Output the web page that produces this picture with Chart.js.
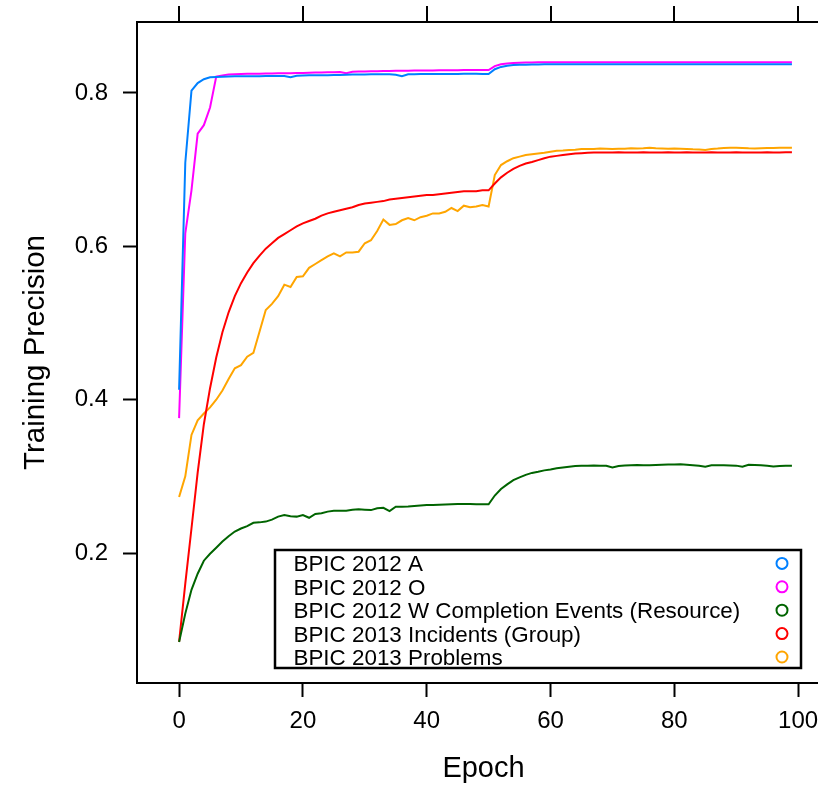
<!DOCTYPE html>
<html>
<head>
<meta charset="utf-8">
<script src="https://cdn.jsdelivr.net/npm/chart.js@4/dist/chart.umd.min.js"></script>
<style>
html,body{margin:0;padding:0;background:#fff;overflow:hidden;width:818px;height:787px;}
#wrap{position:absolute;left:0;top:0;width:840px;height:787px;}
</style>
</head>
<body>
<div id="wrap"><canvas id="c" width="840" height="787"></canvas></div>
<script>
const epochs = Array.from({length: 100}, (_, i) => i);
const seriesNames = ["BPIC 2012 A", "BPIC 2012 O", "BPIC 2012 W Completion Events (Resource)", "BPIC 2013 Incidents (Group)", "BPIC 2013 Problems"];
const seriesColors = ["#0080ff", "#ff00ff", "#006400", "#ff0000", "#ffa500"];
const xTicks = [0, 20, 40, 60, 80, 100];
const yTicks = [0.2, 0.4, 0.6, 0.8];

const bpic2012A = [
0.413,0.709,0.803,0.813,0.818,0.8205,0.821,0.8212,0.8215,0.8218,
0.822,0.822,0.822,0.822,0.8222,0.8222,0.8222,0.8222,0.8205,0.8225,
0.8228,0.823,0.823,0.8232,0.8233,0.8235,0.8235,0.8238,0.824,0.824,
0.8242,0.8244,0.8244,0.8244,0.8245,0.8238,0.822,0.8245,0.8246,0.8247,
0.8248,0.8248,0.8248,0.8249,0.8249,0.8249,0.825,0.825,0.825,0.8248,
0.8248,0.831,0.834,0.8355,0.8364,0.8368,0.837,0.8372,0.8373,0.8374,
0.8374,0.8375,0.8374,0.8375,0.8375,0.8374,0.8375,0.8376,0.8375,0.8374,
0.8375,0.8376,0.8375,0.8375,0.8376,0.8375,0.8374,0.8375,0.8376,0.8375,
0.8375,0.8376,0.8375,0.8374,0.8375,0.8375,0.8376,0.8375,0.8374,0.8375,
0.8376,0.8375,0.8375,0.8374,0.8375,0.8376,0.8375,0.8375,0.8375,0.8375];

const bpic2012O = [
0.376,0.617,0.673,0.747,0.758,0.781,0.8215,0.823,0.8242,0.8246,
0.8248,0.825,0.825,0.8252,0.8254,0.8255,0.8256,0.8257,0.8259,0.826,
0.8262,0.8264,0.8266,0.8268,0.827,0.8272,0.8274,0.8257,0.8278,0.828,
0.8282,0.8284,0.8285,0.8287,0.8288,0.8289,0.829,0.8291,0.8292,0.8293,
0.8294,0.8295,0.8296,0.8297,0.8297,0.8298,0.8299,0.83,0.83,0.83,
0.83,0.835,0.8375,0.8385,0.8392,0.8396,0.8398,0.8399,0.84,0.84,
0.8401,0.84,0.8401,0.8402,0.8401,0.84,0.8401,0.8402,0.8401,0.8401,
0.84,0.8401,0.8402,0.8401,0.8401,0.84,0.8401,0.8402,0.8401,0.84,
0.8401,0.8401,0.8402,0.8401,0.84,0.8401,0.8401,0.8402,0.8401,0.84,
0.8401,0.8402,0.8401,0.8401,0.84,0.8401,0.8402,0.8401,0.8401,0.8401];

const bpic2012W = [
0.084,0.121,0.152,0.173,0.190,0.199,0.207,0.215,0.222,0.228,
0.232,0.235,0.2395,0.240,0.241,0.2435,0.2475,0.2495,0.248,0.2475,
0.2495,0.246,0.251,0.2518,0.254,0.2552,0.2552,0.2552,0.2565,0.257,
0.2565,0.256,0.2585,0.259,0.2548,0.2604,0.2604,0.2608,0.2614,0.262,
0.2626,0.2628,0.263,0.2633,0.2636,0.2638,0.264,0.2638,0.2636,0.2635,
0.2635,0.275,0.2835,0.2895,0.295,0.2987,0.302,0.3045,0.306,0.3078,
0.309,0.3105,0.3115,0.3125,0.3135,0.3139,0.314,0.3141,0.314,0.3138,
0.3117,0.3135,0.3142,0.3145,0.3148,0.3146,0.3144,0.3148,0.3152,0.3154,
0.3156,0.3157,0.3152,0.3146,0.3138,0.3126,0.3145,0.3146,0.3144,0.3142,
0.314,0.3126,0.3152,0.3148,0.3144,0.3138,0.313,0.3136,0.3139,0.3139];

const bpic2013Incidents = [
0.084,0.160,0.232,0.305,0.368,0.415,0.455,0.488,0.514,0.535,
0.552,0.566,0.578,0.588,0.597,0.604,0.611,0.616,0.621,0.626,
0.630,0.633,0.636,0.640,0.643,0.645,0.647,0.649,0.651,0.654,
0.656,0.657,0.658,0.659,0.661,0.662,0.663,0.664,0.665,0.666,
0.667,0.667,0.668,0.669,0.670,0.671,0.672,0.672,0.672,0.673,
0.673,0.682,0.690,0.696,0.701,0.705,0.708,0.710,0.7125,0.715,
0.717,0.718,0.719,0.720,0.721,0.7215,0.722,0.7223,0.7225,0.7224,
0.7225,0.7226,0.7225,0.7224,0.7225,0.7226,0.7225,0.7225,0.7224,0.7226,
0.7225,0.7225,0.7226,0.7224,0.7225,0.7225,0.7226,0.7225,0.7224,0.7225,
0.7226,0.7225,0.7225,0.7224,0.7225,0.7226,0.7225,0.7225,0.7226,0.7226];

const bpic2013Problems = [
0.273,0.300,0.354,0.373,0.382,0.390,0.400,0.412,0.427,0.441,
0.445,0.456,0.461,0.489,0.517,0.525,0.535,0.550,0.547,0.560,
0.561,0.572,0.577,0.582,0.587,0.591,0.587,0.592,0.592,0.593,
0.604,0.608,0.620,0.635,0.628,0.629,0.634,0.637,0.634,0.638,
0.640,0.643,0.643,0.645,0.650,0.646,0.653,0.651,0.652,0.654,
0.652,0.693,0.706,0.711,0.715,0.717,0.719,0.720,0.721,0.722,
0.7235,0.7247,0.725,0.7255,0.726,0.727,0.7268,0.727,0.7275,0.7272,
0.727,0.7274,0.7272,0.7278,0.7275,0.728,0.7287,0.7278,0.7275,0.7272,
0.7276,0.7274,0.727,0.7265,0.7262,0.7258,0.727,0.7275,0.7282,0.7286,
0.7287,0.7282,0.7278,0.7276,0.728,0.7283,0.7282,0.7285,0.7287,0.7287];

const seriesValues = [bpic2012A, bpic2012O, bpic2012W, bpic2013Incidents, bpic2013Problems];

const FONT = '"Liberation Sans", Arial, sans-serif';

const boxPlugin = {
  id: 'boxPlugin',
  afterDraw(chart) {
    const {ctx, chartArea: a, scales} = chart;
    ctx.save();
    ctx.strokeStyle = '#000';
    ctx.lineWidth = 2;
    ctx.strokeRect(a.left, a.top, a.right - a.left, a.bottom - a.top);
    // top ticks
    ctx.beginPath();
    xTicks.forEach(v => {
      const x = Math.round(scales.x.getPixelForValue(v));
      ctx.moveTo(x, a.top);
      ctx.lineTo(x, a.top - 16);
    });
    ctx.stroke();
    // legend
    const lx = 275, ly = 550, lw = 526, lh = 118;
    ctx.fillStyle = '#fff';
    ctx.fillRect(lx, ly, lw, lh);
    ctx.lineWidth = 2.5;
    ctx.strokeRect(lx, ly, lw, lh);
    ctx.font = '22.4px ' + FONT;
    ctx.textBaseline = 'alphabetic';
    ctx.textAlign = 'left';
    seriesNames.forEach((name, i) => {
      const cy = 563.4 + i * 23.4;
      ctx.fillStyle = '#000';
      ctx.fillText(name, 293.5, cy + 8);
      ctx.beginPath();
      ctx.strokeStyle = seriesColors[i];
      ctx.lineWidth = 2;
      ctx.arc(782, cy, 5.5, 0, Math.PI * 2);
      ctx.stroke();
    });
    ctx.restore();
  }
};

new Chart(document.getElementById('c'), {
  type: 'line',
  data: {
    datasets: seriesNames.map((name, i) => ({
      label: name,
      data: epochs.map((e, j) => ({x: e, y: seriesValues[i][j]})),
      borderColor: seriesColors[i],
      borderWidth: 2,
      pointRadius: 0,
      tension: 0,
      fill: false
    }))
  },
  options: {
    responsive: false,
    animation: false,
    devicePixelRatio: 1,
    layout: {padding: {top: 22, right: 10, left: 0, bottom: 0}},
    plugins: {legend: {display: false}, tooltip: {enabled: false}},
    scales: {
      x: {
        type: 'linear',
        position: 'bottom',
        min: -6.8,
        max: 105.15,
        afterBuildTicks: s => { s.ticks = xTicks.map(v => ({value: v})); },
        afterFit: s => { s.height = 104; s.paddingLeft = 0; s.paddingRight = 0; },
        ticks: {font: {size: 24, family: FONT}, color: '#000', padding: 10, maxRotation: 0, autoSkip: false,
                callback: v => String(v)},
        grid: {drawOnChartArea: false, drawTicks: true, tickLength: 14, tickWidth: 2, tickColor: '#000'},
        border: {display: false},
        title: {display: true, text: 'Epoch', color: '#000', font: {size: 29, family: FONT, lineHeight: 1}, padding: {top: 0, bottom: 4}}
      },
      y: {
        type: 'linear',
        min: 0.0305,
        max: 0.8926,
        afterBuildTicks: s => { s.ticks = yTicks.map(v => ({value: v})); },
        afterFit: s => { s.width = 137; s.paddingTop = 0; s.paddingBottom = 0; },
        ticks: {font: {size: 24, family: FONT}, color: '#000', padding: 15, autoSkip: false,
                callback: v => v.toFixed(1)},
        grid: {drawOnChartArea: false, drawTicks: true, tickLength: 14, tickWidth: 2, tickColor: '#000'},
        border: {display: false},
        title: {display: true, text: 'Training Precision', color: '#000', font: {size: 29.5, family: FONT, lineHeight: 1}, padding: {top: 21, bottom: 0}}
      }
    }
  },
  plugins: [boxPlugin]
});
</script>
</body>
</html>
